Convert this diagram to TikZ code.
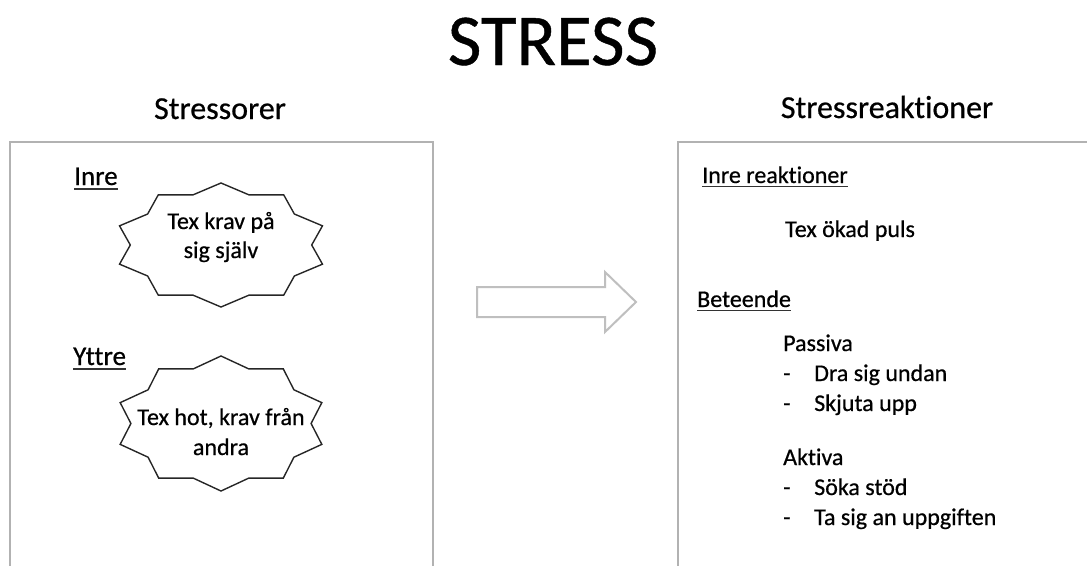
\documentclass[tikz,border=0pt]{standalone}
\usepackage{fontspec}
\setmainfont{Carlito}[FakeBold=0.6,Ligatures=NoCommon]
\tikzset{
  boxline/.style={draw=black!30, line width=2pt},
  sealline/.style={draw=black!85, line width=1.4pt, line join=miter},
  arrowline/.style={draw=black!25, line width=2pt, fill=white, line join=miter},
  title/.style={inner sep=0pt, anchor=base, font=\fontsize{73}{80}\selectfont},
  header/.style={inner sep=0pt, anchor=base, font=\fontsize{32}{38}\selectfont},
  heading/.style={inner sep=0pt, anchor=base west, font=\fontsize{27}{32}\selectfont},
  subheading/.style={inner sep=0pt, anchor=base west, font=\fontsize{24}{29}\selectfont},
  body/.style={inner sep=0pt, anchor=base west, font=\fontsize{24}{29}\selectfont},
  bodyc/.style={inner sep=0pt, anchor=base, font=\fontsize{24}{29}\selectfont},
  ul/.style={draw=black!80, line width=1.4pt},
}
\newcommand\sealpath[3]{%
  \draw[sealline,shift={(#1)}] (90:#2 and #3)
    \foreach \i in {1,...,19}{ -- ({90+18*\i}:{#2*(1-0.15*mod(\i,2))} and {#3*(1-0.15*mod(\i,2))})} -- cycle;}
\begin{document}
\begin{tikzpicture}[x=1pt,y=-1pt]
\useasboundingbox (0,0) rectangle (1087,565);
\begin{scope}
  \clip (0,0) rectangle (1087,565);
  \draw[boxline] (10,142) rectangle (433,600);
  \draw[boxline] (678,142) rectangle (1120,600);
\end{scope}

% titles
\node[title] (ttl) at (553,65) {STRESS};
\node[header] (hl) at (220,119) {Stressorer};
\node[header] (hr) at (887,118) {Stressreaktioner};

% left box
\node[heading] (inre) at (74,185) {Inre};
\draw[ul] ([yshift=-4pt]inre.base west) -- ([yshift=-4pt]inre.base east);
\coordinate (st1) at (221,245);
\sealpath{st1}{106.7}{62}
\node[bodyc] (s1a) at (221,229) {Tex krav på};
\node[bodyc] (s1b) at (221,258) {sig själv};

\node[heading] (yttre) at (73,365) {Yttre};
\draw[ul] ([yshift=-4pt]yttre.base west) -- ([yshift=-4pt]yttre.base east);
\coordinate (st2) at (221,423.5);
\sealpath{st2}{106}{67.5}
\node[bodyc] (s2a) at (221,425) {Tex hot, krav från};
\node[bodyc] (s2b) at (221,455) {andra};

% arrow
\coordinate (arr) at (477,287);
\draw[arrowline] (arr) -- ++(128,0) -- ++(0,-15) -- ++(31,30) -- ++(-31,30) -- ++(0,-15) -- ++(-128,0) -- cycle;

% right box
\node[subheading] (ir) at (702,183) {Inre reaktioner};
\draw[ul] ([yshift=-3.5pt]ir.base west) -- ([yshift=-3.5pt]ir.base east);
\node[body] (puls) at (785,237) {Tex ökad puls};
\node[subheading] (bet) at (697,307) {Beteende};
\draw[ul] ([yshift=-3.5pt]bet.base west) -- ([yshift=-3.5pt]bet.base east);
\node[body] (pas) at (783,351) {Passiva};
\node[body] (d1) at (783,381) {-};
\node[body] (p1) at (814,381) {Dra sig undan};
\node[body] (d2) at (783,411) {-};
\node[body] (p2) at (814,411) {Skjuta upp};
\node[body] (akt) at (783,465) {Aktiva};
\node[body] (d3) at (783,495) {-};
\node[body] (a1) at (814,495) {Söka stöd};
\node[body] (d4) at (783,525) {-};
\node[body] (a2) at (814,525) {Ta sig an uppgiften};
\end{tikzpicture}
\end{document}
